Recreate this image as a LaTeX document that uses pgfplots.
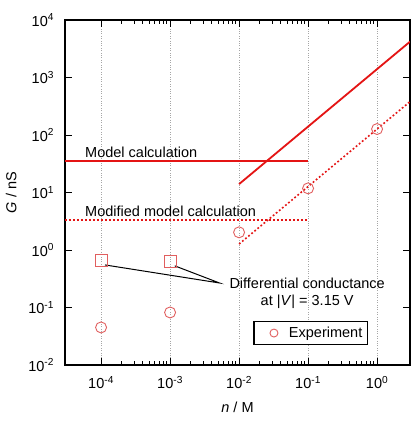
\documentclass[border=0pt]{standalone}
\usepackage{pgfplots}
\pgfplotsset{compat=1.18}
\usepackage{fontspec}
\setmainfont{Liberation Sans}
\definecolor{lred}{RGB}{228,20,20}
\definecolor{mred}{RGB}{225,95,95}
\begin{document}
\fontsize{14.5}{17}\selectfont
\begin{tikzpicture}
\begin{axis}[
  scale only axis,
  width=345pt, height=345pt,
  xmode=log, ymode=log,
  xmin=3e-5, xmax=3,
  ymin=1e-2, ymax=1e4,
  axis line style={line width=1.2pt},
  tick style={black, line width=0.9pt},
  major tick length=7pt,
  minor tick length=4pt,
  tick align=inside,
  xtick={1e-4,1e-3,1e-2,1e-1,1},
  xticklabels={10\textsuperscript{-4},10\textsuperscript{-3},10\textsuperscript{-2},10\textsuperscript{-1},10\textsuperscript{0}},
  ytick={1e-2,1e-1,1,1e1,1e2,1e3,1e4},
  yticklabels={10\textsuperscript{-2},10\textsuperscript{-1},10\textsuperscript{0},10\textsuperscript{1},10\textsuperscript{2},10\textsuperscript{3},10\textsuperscript{4}},
  yminorticks=false,
  xmajorgrids,
  major grid style={gray!70, dotted, line width=0.6pt},
  xticklabel style={yshift=-6pt},
  yticklabel style={xshift=-6pt},
  xlabel={\textit{n} / M},
  ylabel={\textit{G} / nS},
  xlabel style={yshift=-4pt},
  ylabel style={yshift=2pt},
  legend style={at={(rel axis cs:0.878,0.058)}, anchor=south east,
    draw=black, line width=1.2pt, inner xsep=3pt, inner ysep=3pt,
    font=\fontsize{14.5}{17}\selectfont},
  legend image code/.code={
    \path[draw=none, fill=none] (0pt,-4pt) rectangle (26pt,4pt);
    \draw[mred, line width=0.9pt] (17pt,0pt) circle (4pt);},
  legend cell align=left,
]
% model calculation
\addplot[lred, line width=1.8pt, forget plot] coordinates {(3e-5,35.3) (0.1,35.3)};
\addplot[lred, line width=1.8pt, forget plot] coordinates {(0.01,14) (3,4200)};
% modified model calculation
\addplot[lred, line width=1.6pt, dash pattern=on 1.8pt off 2.2pt, forget plot] coordinates {(3e-5,3.3) (0.1,3.3)};
\addplot[lred, line width=1.6pt, dash pattern=on 1.8pt off 2.2pt, forget plot] coordinates {(0.01,1.27) (3,381)};
% experiment
\addplot[only marks, mark=o, mark size=5.5pt, mred, line width=0.9pt] coordinates {
  (1e-4,0.045) (1e-3,0.082) (1e-2,2.03) (0.1,11.8) (1,127)
};
\addlegendentry{\hspace{4pt}Experiment}
% differential conductance
\addplot[only marks, mark=square, mark size=6pt, mred, line width=0.9pt, forget plot] coordinates {
  (1e-4,0.67) (1e-3,0.62)
};
\draw[black, line width=1pt] (axis cs:1.14e-4,0.55) -- (axis cs:5.2e-3,0.267) -- (axis cs:1.17e-3,0.53);
\node[anchor=base west, inner sep=0pt] at (axis cs:5.85e-5,41.4) {Model calculation};
\node[anchor=base west, inner sep=0pt] at (axis cs:5.85e-5,3.83) {Modified model calculation};
\node[anchor=north, align=center, inner sep=0pt, font=\fontsize{14.5}{17}\selectfont] at (axis cs:0.097,0.326) {Differential conductance\\at |\textit{V}| = 3.15 V};
\end{axis}
\pgfresetboundingbox
\useasboundingbox (-65pt,-56pt) rectangle (346pt,365pt);
\end{tikzpicture}
\end{document}
